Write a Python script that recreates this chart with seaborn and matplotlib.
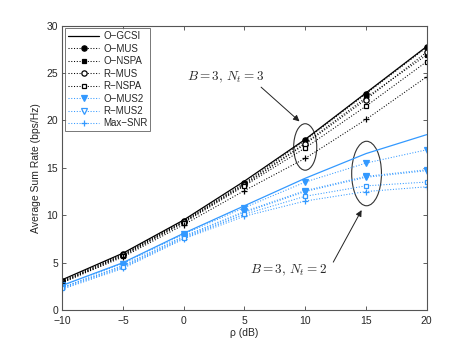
import matplotlib
matplotlib.use('Agg')
import matplotlib.pyplot as plt
from matplotlib.patches import Ellipse
import seaborn as sns

# SNR points (dB)
rho = [-10, -5, 0, 5, 10, 15, 20]

# B = 3, Nt = 3 (black)
o_gcsi_3 = [3.2, 6.0, 9.5, 13.6, 18.0, 22.9, 27.8]
o_mus_3 = [3.1, 5.9, 9.4, 13.4, 17.9, 22.8, 27.7]
o_nspa_3 = [3.0, 5.8, 9.3, 13.3, 17.6, 22.4, 26.9]
r_mus_3 = [3.0, 5.8, 9.3, 13.2, 17.5, 22.2, 27.2]
r_nspa_3 = [2.9, 5.7, 9.2, 13.1, 17.1, 21.5, 26.2]
max_snr_3 = [2.9, 5.6, 9.0, 12.6, 16.0, 20.1, 24.6]

# B = 3, Nt = 2 (blue)
o_gcsi_2 = [2.6, 5.0, 8.1, 11.0, 13.9, 16.5, 18.5]
o_mus_2 = [2.6, 4.9, 8.0, 10.8, 13.5, 15.5, 16.9]
o_nspa_2 = [2.4, 4.7, 7.8, 10.4, 12.6, 14.1, 14.8]
r_mus_2 = [2.4, 4.6, 7.7, 10.3, 12.5, 14.0, 14.7]
r_nspa_2 = [2.3, 4.5, 7.6, 10.1, 12.0, 13.1, 13.5]
max_snr_2 = [2.2, 4.4, 7.5, 9.9, 11.5, 12.5, 13.0]

x_ticks = [-10, -5, 0, 5, 10, 15, 20]
y_ticks = [0, 5, 10, 15, 20, 25, 30]

sns.set_theme(style='ticks')
plt.rcParams['font.family'] = ['Liberation Sans', 'DejaVu Sans']
plt.rcParams['mathtext.fontset'] = 'cm'

blk = 'black'
blue = '#3399ff'

fig, ax = plt.subplots(figsize=(4.71, 3.5), dpi=100)
fig.subplots_adjust(left=0.132, right=0.906, bottom=0.114, top=0.927)

def draw(vals, color, marker=None, ls=':', face=None, label=None, ms=4):
    kw = dict(x=rho, y=vals, ax=ax, color=color, linestyle=ls,
              linewidth=0.9 if ls == '-' else 0.75, label=label, legend=bool(label))
    if marker:
        kw.update(marker=marker, markersize=ms, markeredgecolor=color,
                  markerfacecolor=face if face else color, markeredgewidth=0.9)
    sns.lineplot(**kw)

draw(o_gcsi_3, blk, ls='-', label='O\u2212GCSI')
draw(o_mus_3, blk, 'o', label='O\u2212MUS', ms=3.8)
draw(o_nspa_3, blk, 's', label='O\u2212NSPA', ms=3.3)
draw(r_mus_3, blk, 'o', face='white', label='R\u2212MUS', ms=3.8)
draw(r_nspa_3, blk, 's', face='white', label='R\u2212NSPA', ms=3.3)
draw(o_mus_2, blue, 'v', label='O\u2212MUS2', ms=4.6)
draw(r_mus_2, blue, 'v', face='white', label='R\u2212MUS2', ms=4.6)
draw(max_snr_2, blue, '+', label='Max\u2212SNR', ms=4.6)
draw(max_snr_3, blk, '+', ms=4.6)
draw(o_gcsi_2, blue, ls='-')
draw(o_nspa_2, blue, 'v', ms=4.6)
draw(r_nspa_2, blue, 's', face='white', ms=3.3)

ax.set_xlim(-10, 20)
ax.set_ylim(0, 30)
ax.set_xticks(x_ticks)
ax.set_yticks(y_ticks)
ax.tick_params(direction='in', top=True, right=True, labelsize=7.5, length=3,
               width=0.6, color='#444444')
ax.tick_params(axis='x', pad=4)
ax.tick_params(axis='y', pad=3)
for sp in ax.spines.values():
    sp.set_color('#555555')
    sp.set_linewidth(0.8)
ax.set_xlabel('\u03c1 (dB)', fontsize=7.5, labelpad=2)
ax.set_ylabel('Average Sum Rate (bps/Hz)', fontsize=7.5, labelpad=4)

leg = ax.legend(loc='upper left', fontsize=7, frameon=True, fancybox=False,
                borderaxespad=0.3, handlelength=3.2, labelspacing=0.25,
                borderpad=0.3, handletextpad=0.4)
leg.get_frame().set_edgecolor('#555555')
leg.get_frame().set_linewidth(0.7)

# ellipses marking the two groups
ax.add_patch(Ellipse((10, 17.2), 1.9, 4.9, fill=False, edgecolor='#333333', lw=0.8))
ax.add_patch(Ellipse((15.05, 14.4), 2.45, 6.8, fill=False, edgecolor='#333333', lw=0.8))

ax.text(6.6, 24.5, r'$B = 3,\, N_t = 3$', fontsize=9.5, ha='right', va='center')
ax.annotate('', xy=(9.7, 19.7), xytext=(6.2, 23.7),
            arrowprops=dict(arrowstyle='-|>', color='#222222', lw=0.7,
                            mutation_scale=9))
ax.text(8.6, 4.2, r'$B = 3,\, N_t = 2$', fontsize=9.5, ha='center', va='center')
ax.annotate('', xy=(14.75, 10.8), xytext=(12.2, 4.8),
            arrowprops=dict(arrowstyle='-|>', color='#222222', lw=0.7,
                            mutation_scale=9))

fig.savefig('out.png', dpi=100)
